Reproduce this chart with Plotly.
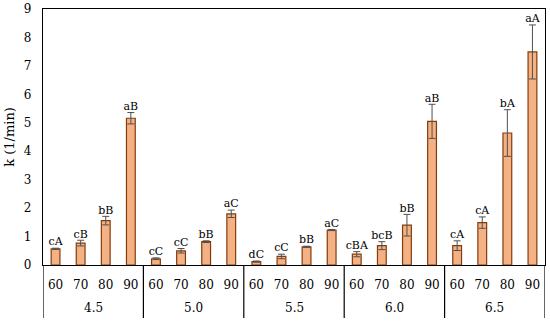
import plotly.graph_objects as go

ph_groups = ["4.5", "5.0", "5.5", "6.0", "6.5"]
temps = ["60", "70", "80", "90"]
k_values = [
    [0.57, 0.77, 1.56, 5.16],
    [0.22, 0.50, 0.82, 1.80],
    [0.12, 0.30, 0.64, 1.23],
    [0.38, 0.68, 1.40, 5.05],
    [0.68, 1.49, 4.64, 7.49],
]
k_errors = [
    [0.02, 0.10, 0.15, 0.20],
    [0.03, 0.08, 0.03, 0.13],
    [0.02, 0.08, 0.02, 0.02],
    [0.09, 0.14, 0.38, 0.60],
    [0.17, 0.20, 0.82, 0.95],
]
letters = [
    ["cA", "cB", "bB", "aB"],
    ["cC", "cC", "bB", "aC"],
    ["dC", "cC", "bB", "aC"],
    ["cBA", "bcB", "bB", "aB"],
    ["cA", "cA", "bA", "aA"],
]

nT = len(temps)
xs, yv, ye, lab, tlab = [], [], [], [], []
for gi, g in enumerate(ph_groups):
    for ti, t in enumerate(temps):
        xs.append(gi * nT + ti)
        yv.append(k_values[gi][ti])
        ye.append(k_errors[gi][ti])
        lab.append(letters[gi][ti])
        tlab.append(t)

FONT = "DejaVu Serif"
N = len(xs)

fig = go.Figure()
fig.add_trace(go.Bar(
    x=xs, y=yv,
    marker=dict(color="#F4B183", line=dict(color="#843C0C", width=1.2)),
    error_y=dict(type="data", array=ye, visible=True, color="#505050", thickness=1, width=3.5),
    showlegend=False,
))
fig.add_trace(go.Scatter(
    x=xs, y=[v + e for v, e in zip(yv, ye)],
    mode="text", text=lab, textposition="top center",
    textfont=dict(family=FONT, size=11, color="#000000"),
    showlegend=False, cliponaxis=False,
))

shapes = []
annotations = []
for gi, g in enumerate(ph_groups):
    annotations.append(dict(
        x=gi * nT + (nT - 1) / 2, y=0, yshift=-43, xref="x", yref="y domain",
        text=g, showarrow=False, yanchor="middle",
        font=dict(family=FONT, size=12, color="#000000"),
    ))
for b in range(len(ph_groups) + 1):
    shapes.append(dict(
        type="line", xref="x", yref="y domain",
        x0=b * nT - 0.5, x1=b * nT - 0.5, y0=0, y1=-53 / 256,
        line=dict(color="#000000", width=1.2),
    ))

fig.update_layout(
    width=550, height=321,
    margin=dict(l=43, r=5, t=9, b=56, autoexpand=False),
    paper_bgcolor="white", plot_bgcolor="white",
    bargap=0.65,
    font=dict(family=FONT, size=12, color="#000000"),
    shapes=shapes, annotations=annotations,
)
fig.update_xaxes(
    range=[-0.5, N - 0.5], tickvals=xs, ticktext=tlab,
    showline=True, linecolor="#000000", linewidth=1.2,
    mirror=True, ticks="outside", ticklen=8, tickcolor="rgba(0,0,0,0)",
    showgrid=False, zeroline=False, automargin=False,
    tickfont=dict(family=FONT, size=12),
)
fig.update_yaxes(
    range=[0, 9], dtick=1, showgrid=False, zeroline=False,
    showline=True, linecolor="#000000", linewidth=1.2, mirror=True,
    ticks="outside", ticklen=8, tickcolor="rgba(0,0,0,0)", automargin=False,
    title=dict(text="k (1/min)", font=dict(family=FONT, size=13), standoff=6),
    tickfont=dict(family=FONT, size=12),
)

fig.write_html("out.html", config={"displayModeBar": False},
               post_script="document.body.style.margin='0';")
